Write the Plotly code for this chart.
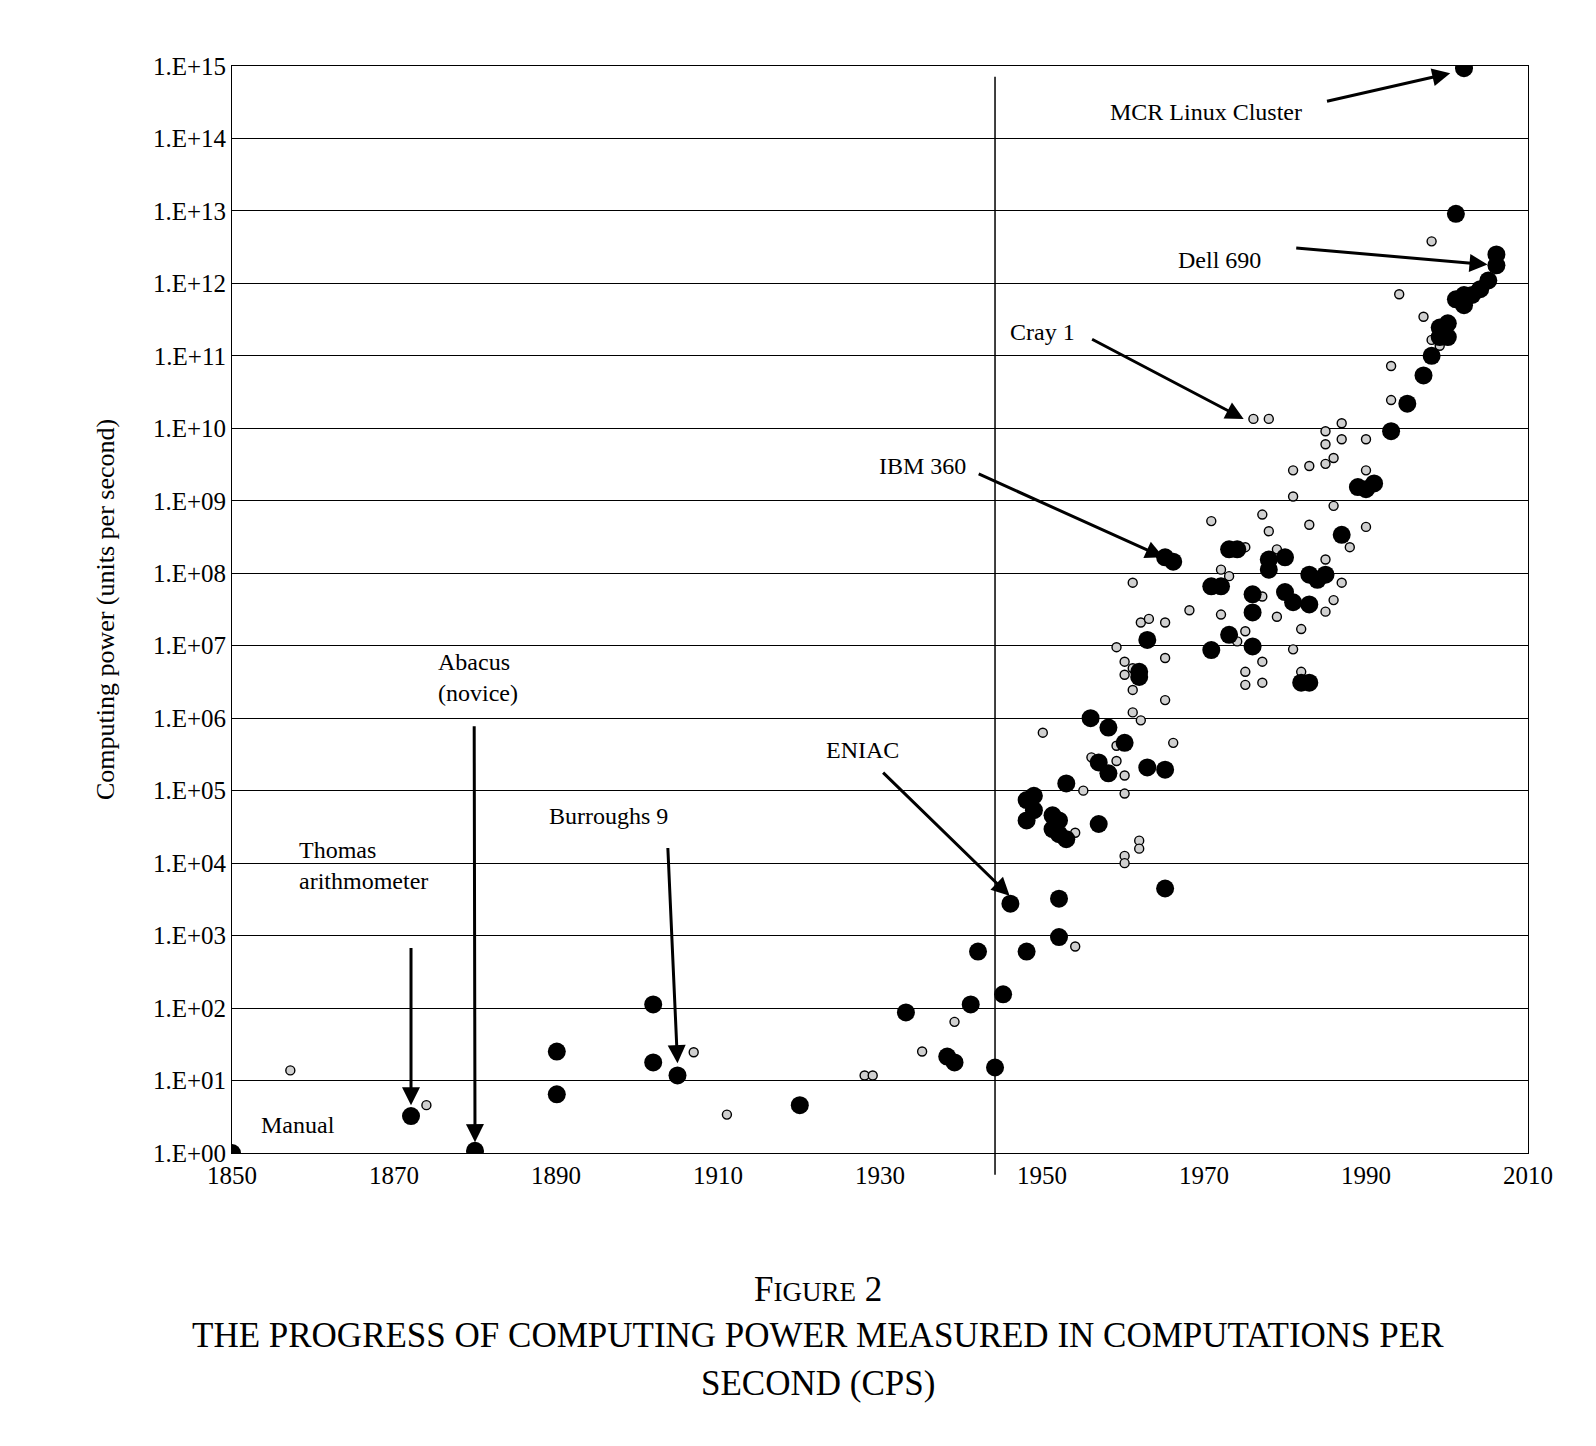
import plotly.graph_objects as go

# large black markers: year, log10(cps)
big_year = [1850, 1872.1, 1880, 1890.1, 1890.1, 1902, 1902, 1905, 1920.1, 1933.2, 1938.3, 1939.2,
            1941.2, 1942.1, 1944.2, 1945.2, 1946.1, 1948.1, 1948.1, 1949, 1948.1, 1949, 1951.3,
            1952.1, 1951.3, 1952.1, 1953, 1952.1, 1952.1, 1953, 1956, 1957, 1957, 1958.2, 1958.2,
            1960.2, 1962, 1962, 1963, 1963, 1965.2, 1965.2, 1965.2, 1966.2, 1970.9, 1970.9, 1972.1,
            1973.1, 1974.1, 1973.1, 1976, 1976, 1976, 1978, 1978, 1980, 1980, 1981, 1982, 1983,
            1983, 1983, 1984, 1985, 1987, 1989, 1990, 1991, 1993.1, 1995.1, 1997.1, 1998.1, 1999.1,
            1999.1, 2000.1, 2000.1, 2001.1, 2001.1, 2002.1, 2002.1, 2002.1, 2003.1, 2004.1, 2005.1,
            2006.1, 2006.1]
big_log = [0, 0.51, 0.03, 1.40, 0.81, 2.05, 1.25, 1.07, 0.66, 1.94, 1.33, 1.25,
           2.05, 2.78, 1.18, 2.19, 3.44, 2.78, 4.87, 4.93, 4.59, 4.73, 4.66,
           4.59, 4.47, 4.40, 4.33, 3.51, 2.98, 5.10, 6.0, 5.39, 4.54, 5.87, 5.24,
           5.66, 6.57, 6.64, 7.08, 5.32, 5.29, 3.65, 8.22, 8.16, 6.94, 7.82, 7.82,
           8.33, 8.33, 7.15, 7.71, 7.46, 6.99, 8.19, 8.05, 8.22, 7.74, 7.60, 6.49, 6.49,
           7.98, 7.57, 7.91, 7.98, 8.53, 9.19, 9.16, 9.24, 9.96, 10.34, 10.73, 11.0, 11.39,
           11.26, 11.26, 11.45, 11.78, 12.96, 14.97, 11.70, 11.84, 11.84, 11.92, 12.04,
           12.25, 12.40]

# small grey markers
small_year = [1857.2, 1874, 1907, 1911.1, 1928.1, 1929.1, 1935.2, 1939.2, 1950.1, 1954.1, 1955.1,
              1954.1, 1956.1, 1957.1, 1959.2, 1959.2, 1960.2, 1960.2, 1959.2, 1960.2, 1960.2,
              1961.2, 1961.2, 1961.2, 1961.2, 1962.2, 1962.2, 1963.2, 1962, 1962, 1960.2, 1960.2,
              1965.2, 1965.2, 1965.2, 1966.2, 1968.2, 1970.9, 1972.1, 1972.1, 1973.1, 1974.1,
              1975.1, 1975.1, 1975.1, 1975.1, 1976.1, 1977.2, 1977.2, 1977.2, 1977.2, 1978, 1978,
              1979, 1979, 1981, 1981, 1981, 1982, 1982, 1983, 1983, 1985, 1985, 1985, 1985, 1985,
              1986, 1986, 1986, 1987, 1987, 1987, 1988, 1990, 1990, 1990, 1993.1, 1993.1, 1994.1,
              1997.1, 1998.1, 1998.1, 1999.1]
small_log = [1.14, 0.66, 1.39, 0.53, 1.07, 1.07, 1.40, 1.81, 5.80, 2.85, 5.0,
             4.42, 5.46, 5.38, 5.41, 5.62, 5.21, 4.96, 6.98, 6.78, 6.60,
             7.87, 6.69, 6.39, 6.08, 7.32, 5.97, 7.37, 4.31, 4.20, 4.10, 4.00,
             6.83, 6.25, 7.32, 5.66, 7.49, 8.72, 8.05, 7.43, 7.96, 7.06,
             8.36, 7.20, 6.64, 6.46, 10.13, 8.81, 7.68, 6.49, 6.78, 10.13, 8.58,
             8.33, 7.40, 9.42, 9.06, 6.95, 7.23, 6.64, 9.48, 8.67, 9.96, 9.78, 9.51, 8.19, 7.47,
             9.59, 8.93, 7.63, 10.07, 9.85, 7.87, 8.36, 9.85, 9.42, 8.64, 10.86, 10.39, 11.85,
             11.54, 12.58, 11.22, 11.14]

# labels: text, x, log10 y, anchor
labels = [
    ("MCR Linux Cluster", 1970.2, 14.37, "center"),
    ("Dell 690", 1971.9, 12.32, "center"),
    ("Cray 1", 1950, 11.33, "center"),
    ("IBM 360", 1935.2, 9.48, "center"),
    ("ENIAC", 1927.9, 5.56, "center"),
    ("Burroughs 9", 1896.5, 4.65, "center"),
    ("Abacus<br>(novice)", 1875.2, 6.56, "left"),
    ("Thomas<br>arithmometer", 1858, 3.97, "left"),
    ("Manual", 1858.2, 0.39, "center"),
]
# arrows: tail x, tail log y, head x, head log y
arrows = [
    (1985, 14.51, 2000.4, 14.90),
    (1981.2, 12.49, 2005, 12.26),
    (1956, 11.24, 1974.9, 10.13),
    (1942, 9.38, 1965, 8.22),
    (1930.2, 5.27, 1946, 3.55),
    (1903.8, 4.23, 1905, 1.24),
    (1879.9, 5.91, 1880, 0.15),
    (1872.1, 2.85, 1872.1, 0.66),
]

FONT = "Liberation Serif"

fig = go.Figure()
fig.add_trace(go.Scatter(
    x=small_year, y=[10 ** v for v in small_log], mode="markers",
    marker=dict(size=9, color="#d0d0d0", line=dict(color="black", width=1.4)),
    hoverinfo="skip"))
fig.add_trace(go.Scatter(
    x=big_year, y=[10 ** v for v in big_log], mode="markers",
    marker=dict(size=18, color="black"), hoverinfo="skip"))

fig.add_shape(type="line", x0=1944.2, x1=1944.2, xref="x", yref="paper", y0=-0.02, y1=0.99,
              line=dict(color="black", width=1.5))

for text, x, y, anchor in labels:
    fig.add_annotation(x=x, y=y, text=text, showarrow=False, xanchor=anchor, align="left",
                       font=dict(size=24, family=FONT, color="black"))
for tx, ty, hx, hy in arrows:
    fig.add_annotation(x=hx, y=hy, ax=tx, ay=ty, xref="x", yref="y", axref="x", ayref="y",
                       text="", showarrow=True, arrowhead=2, arrowsize=1.2, arrowwidth=3,
                       arrowcolor="black")

caption = [
    ("F<span style='font-size:27px'>IGURE</span> 2", -0.145),
    ("THE PROGRESS OF COMPUTING POWER MEASURED IN COMPUTATIONS PER", -0.188),
    ("SECOND (CPS)", -0.232),
]
for text, y in caption:
    fig.add_annotation(x=0.452, y=y, xref="paper", yref="paper", text=text, showarrow=False,
                       font=dict(size=35, family=FONT, color="black"))

fig.update_layout(
    width=1596, height=1446, plot_bgcolor="white", paper_bgcolor="white",
    margin=dict(l=224, r=76, t=58, b=301), showlegend=False,
    font=dict(family=FONT, size=25, color="black"),
    xaxis=dict(range=[1850, 2010], tick0=1850, dtick=20, showgrid=False, zeroline=False,
               showline=True, linecolor="black", mirror=True, ticks="",
               tickfont=dict(size=25)),
    yaxis=dict(type="log", range=[0, 15], tickvals=[10 ** k for k in range(16)],
               ticktext=["1.E+%02d" % k for k in range(16)], showgrid=True,
               gridcolor="black", gridwidth=1, showline=True, linecolor="black",
               mirror=True, ticks="", tickfont=dict(size=25),
               title=dict(text="Computing power (units per second)", font=dict(size=26), standoff=30)),
)

fig.write_html("out.html")
